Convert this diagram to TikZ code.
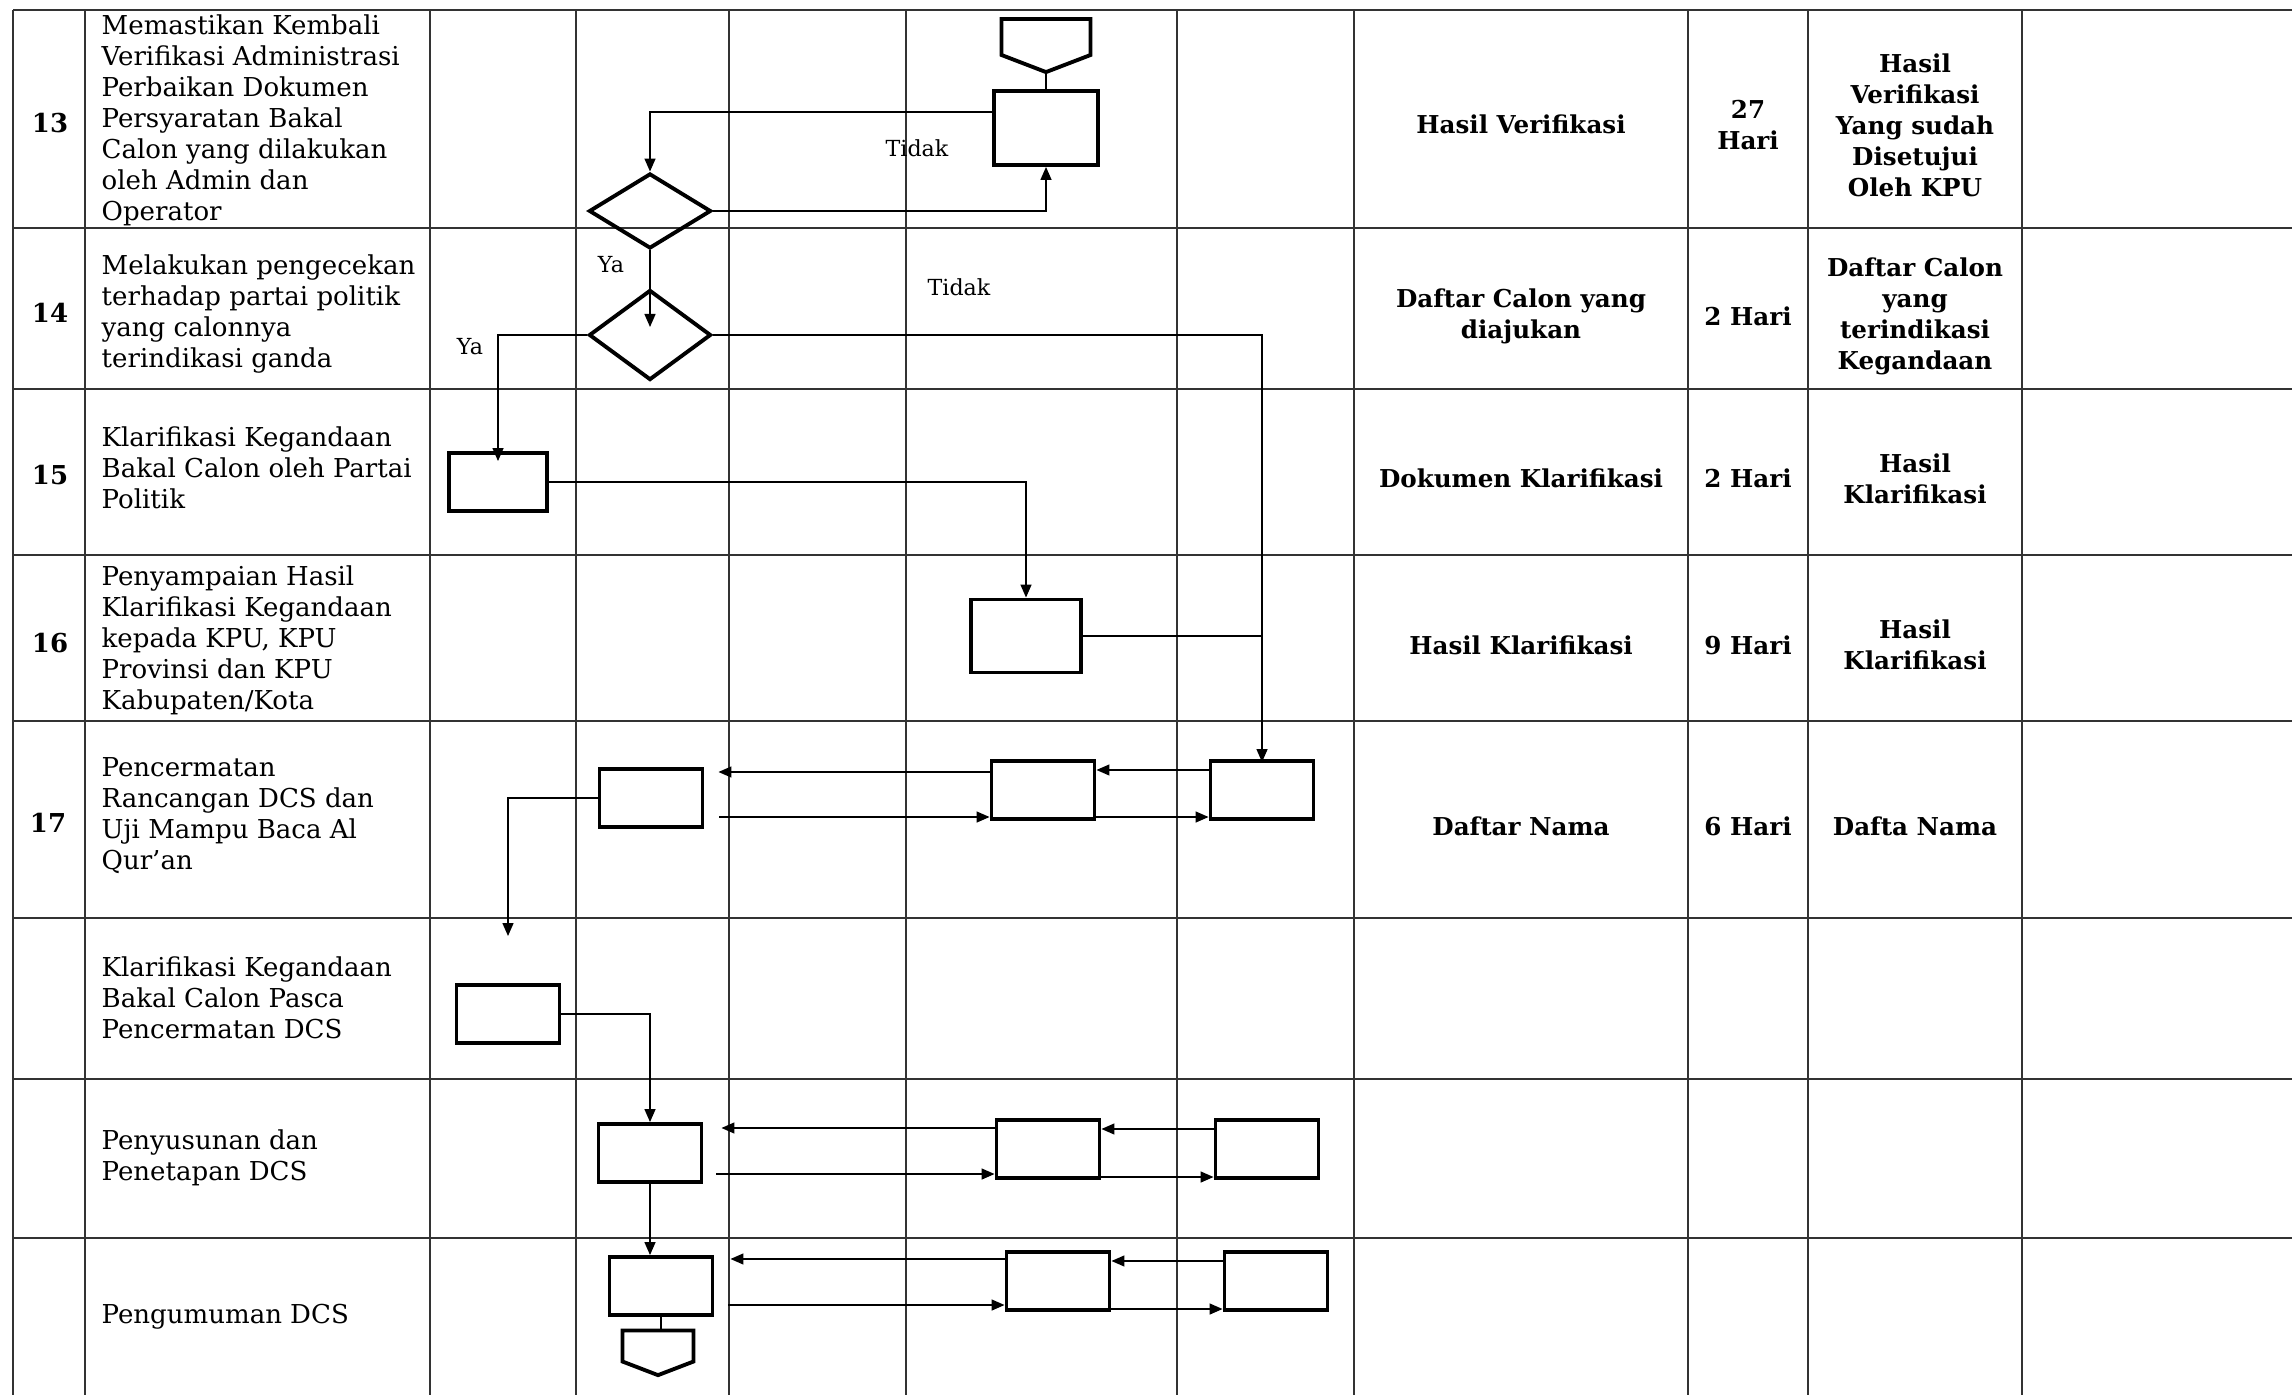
\documentclass[tikz,border=0pt]{standalone}
\usepackage{fontspec}
\setmainfont{DejaVu Serif}
\usetikzlibrary{arrows.meta,shapes.geometric,shapes.symbols,calc}

\begin{document}
\begin{tikzpicture}[
  x=0.01cm, y=-0.01cm,
  tline/.style={draw=black!80, line width=0.45pt},
  box/.style={draw, line width=1.1pt, minimum width=1.03cm, minimum height=0.58cm, inner sep=0pt},
  dec/.style={draw, diamond, line width=1.1pt, inner sep=0pt, minimum width=1.22cm},
  term/.style={draw, signal, signal to=south, signal pointer angle=138, line width=1.1pt, inner sep=0pt},
  flow/.style={line width=0.4pt},
  arr/.style={flow, -{Triangle[length=0.13cm, width=0.11cm]}},
  desc/.style={anchor=west, align=left, inner sep=0pt, font=\fontsize{7.4}{8.8}\selectfont},
  num/.style={inner sep=0pt, font=\fontsize{7.4}{8.8}\selectfont\bfseries},
  res/.style={align=center, inner sep=0pt, font=\fontsize{7}{8.8}\selectfont\bfseries},
  note/.style={inner sep=0pt, font=\fontsize{6.3}{7.5}\selectfont}
]
\useasboundingbox (0,0) rectangle (2292,1395);

% table
\foreach \y in {10,228,389,555,721,918,1079,1238}
  \draw[tline] (13,\y) -- (2292,\y);
\foreach \x in {13,85,430,576,729,906,1177,1354,1688,1808,2022}
  \draw[tline] (\x,10) -- (\x,1395);

% numbers and activities
\node[num] (n13) at (50,123) {13};
\node[num] (n14) at (50,313) {14};
\node[num] (n15) at (50,475) {15};
\node[num] (n16) at (50,643) {16};
\node[num] (n17) at (48,823) {17};

\node[desc] (a13) at (101,120) {Memastikan Kembali\\Verifikasi Administrasi\\Perbaikan Dokumen\\Persyaratan Bakal\\Calon yang dilakukan\\oleh Admin dan\\Operator};
\node[desc] (a14) at (101,314) {Melakukan pengecekan\\terhadap partai politik\\yang calonnya\\terindikasi ganda};
\node[desc] (a15) at (101,468) {Klarifikasi Kegandaan\\Bakal Calon oleh Partai\\Politik};
\node[desc] (a16) at (101,640) {Penyampaian Hasil\\Klarifikasi Kegandaan\\kepada KPU, KPU\\Provinsi dan KPU\\Kabupaten/Kota};
\node[desc] (a17) at (101,816) {Pencermatan\\Rancangan DCS dan\\Uji Mampu Baca Al\\Qur’an};
\node[desc] (a18) at (101,998) {Klarifikasi Kegandaan\\Bakal Calon Pasca\\Pencermatan DCS};
\node[desc] (a19) at (101,1158) {Penyusunan dan\\Penetapan DCS};
\node[desc] (a20) at (101,1317) {Pengumuman DCS};

% outputs, time, result
\node[res] (o13) at (1521,124) {Hasil Verifikasi};
\node[res] (o14) at (1521,316) {Daftar Calon yang\\diajukan};
\node[res] (o15) at (1521,478) {Dokumen Klarifikasi};
\node[res] (o16) at (1521,645) {Hasil Klarifikasi};
\node[res] (o17) at (1521,826) {Daftar Nama};

\node[res] (w13) at (1748,125) {27\\Hari};
\node[res] (w14) at (1748,316) {2 Hari};
\node[res] (w15) at (1748,478) {2 Hari};
\node[res] (w16) at (1748,645) {9 Hari};
\node[res] (w17) at (1748,826) {6 Hari};

\node[res] (h13) at (1915,125) {Hasil\\Verifikasi\\Yang sudah\\Disetujui\\Oleh KPU};
\node[res] (h14) at (1915,316) {Daftar Calon\\yang\\terindikasi\\Kegandaan};
\node[res] (h15) at (1915,479) {Hasil\\Klarifikasi};
\node[res] (h16) at (1915,645) {Hasil\\Klarifikasi};
\node[res] (h17) at (1915,826) {Dafta Nama};

% flow shapes
\node[term, minimum width=0.89cm, minimum height=0.36cm] (t0) at (1046,37) {};
\node[box, minimum width=1.04cm, minimum height=0.74cm] (b13) at (1046,128) {};
\node[dec, minimum height=0.75cm] (d13) at (650,211) {};
\node[dec, minimum height=0.9cm] (d14) at (650,335) {};
\node[box, minimum width=0.98cm] (b15) at (498,482) {};
\node[box, minimum width=1.1cm, minimum height=0.73cm] (b16) at (1026,636) {};
\node[box] (b17a) at (651,798) {};
\node[box] (b17b) at (1043,790) {};
\node[box] (b17c) at (1262,790) {};
\node[box] (b18) at (508,1014) {};
\node[box] (b19a) at (650,1153) {};
\node[box] (b19b) at (1048,1149) {};
\node[box] (b19c) at (1267,1149) {};
\node[box] (b20a) at (661,1286) {};
\node[box] (b20b) at (1058,1281) {};
\node[box] (b20c) at (1276,1281) {};
\node[term, minimum width=0.71cm, minimum height=0.31cm] (t1) at (658,1346) {};

% connectors
\draw[flow] (t0.south) -- (b13.north);
\draw[arr] ($(b13.west)+(0,-16)$) -| (d13.north);
\draw[arr] (d13.east) -| (b13.south);
\draw[arr] (d13.south) -- ($(d14.center)+(0,-8)$);
\draw[arr] (d14.west) -| ($(b15.north)+(0,10)$);
\draw[arr] (d14.east) -| ($(b17c.north)+(0,3)$);
\draw[arr] (b15.east) -| (b16.north);
\draw[flow] (b16.east) -- (b16.east -| b17c.north);

\draw[arr] ([yshift=0.2cm]b17c.west) -- ([yshift=0.2cm]b17c.west -| b17b.east);
\draw[arr, shorten >=0.14cm] ([yshift=0.18cm]b17b.west) -- ([yshift=0.18cm]b17b.west -| b17a.east);
\draw[arr, shorten <=0.15cm] ([yshift=-0.27cm]b17b.west -| b17a.east) -- ([yshift=-0.27cm]b17b.west);
\draw[arr] ([yshift=-0.27cm]b17b.east) -- ([yshift=-0.27cm]b17b.east -| b17c.west);
\draw[arr, shorten >=0.47cm] (b17a.west) -| (b18.north);

\draw[arr] (b18.east) -| (b19a.north);
\draw[arr] ([yshift=0.2cm]b19c.west) -- ([yshift=0.2cm]b19c.west -| b19b.east);
\draw[arr, shorten >=0.18cm] ([yshift=0.21cm]b19b.west) -- ([yshift=0.21cm]b19b.west -| b19a.east);
\draw[arr, shorten <=0.13cm] ([yshift=-0.25cm]b19b.west -| b19a.east) -- ([yshift=-0.25cm]b19b.west);
\draw[arr] ([yshift=-0.28cm]b19b.east) -- ([yshift=-0.28cm]b19b.east -| b19c.west);
\draw[arr] (b19a.south) -- (b19a.south |- b20a.north);

\draw[arr] ([yshift=0.2cm]b20c.west) -- ([yshift=0.2cm]b20c.west -| b20b.east);
\draw[arr, shorten >=0.16cm] ([yshift=0.22cm]b20b.west) -- ([yshift=0.22cm]b20b.west -| b20a.east);
\draw[arr, shorten <=0.14cm] ([yshift=-0.24cm]b20b.west -| b20a.east) -- ([yshift=-0.24cm]b20b.west);
\draw[arr] ([yshift=-0.28cm]b20b.east) -- ([yshift=-0.28cm]b20b.east -| b20c.west);
\draw[flow] (b20a.south) -- (b20a.south |- t1.north);

% decision labels
\node[note] (l1) at (917,148) {Tidak};
\node[note] (l2) at (611,265) {Ya};
\node[note] (l3) at (470,347) {Ya};
\node[note] (l4) at (959,287) {Tidak};
\end{tikzpicture}
\end{document}
